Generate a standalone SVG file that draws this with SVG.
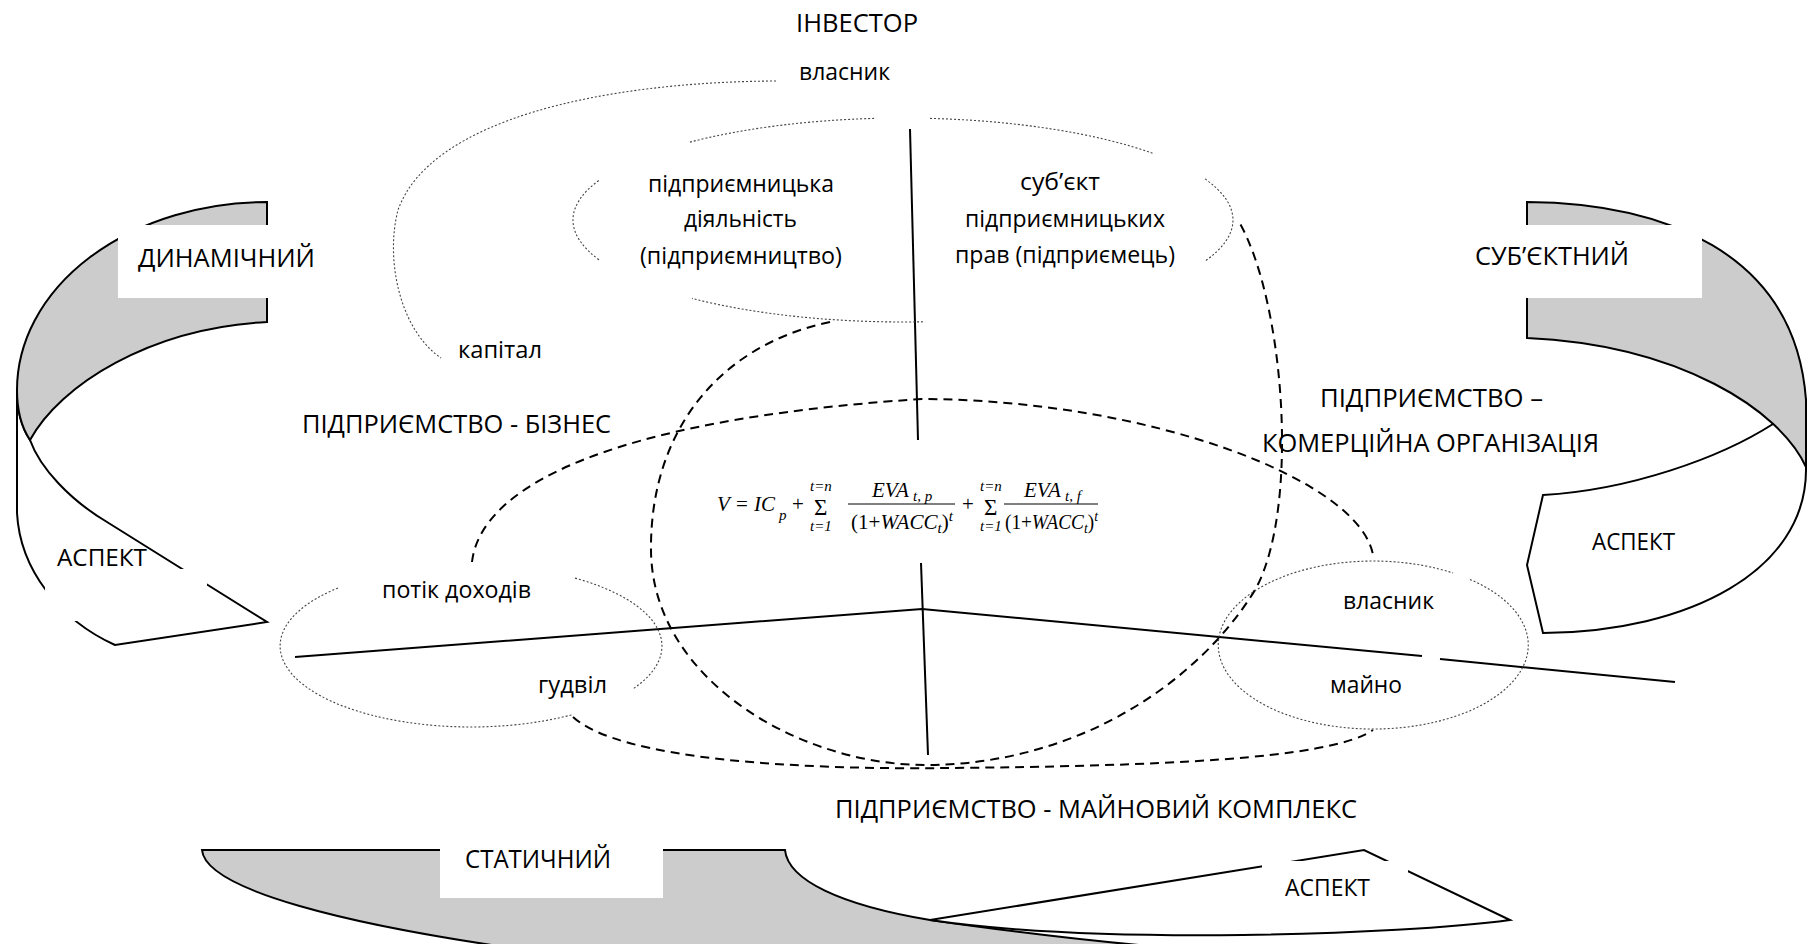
<svg xmlns="http://www.w3.org/2000/svg" width="1807" height="944" viewBox="0 0 1807 944">
<style>
 .band{fill:#cccccc;stroke:#000;stroke-width:2}
 .front{fill:#fff;stroke:#000;stroke-width:2}
 .mask{fill:#fff;stroke:none}
 .solid{fill:none;stroke:#000;stroke-width:2}
 .dash{fill:none;stroke:#000;stroke-width:2;stroke-dasharray:9 6}
 .dot{fill:none;stroke:#444;stroke-width:1.1;stroke-dasharray:2 2}
 text{font-family:"Open Sans","Noto Sans","DejaVu Sans",sans-serif;fill:#000}
 .big{font-size:26px}
 .sm{font-size:23.5px}
 .m{font-family:"Liberation Serif","Times New Roman",serif;font-size:21px}
 .mi{font-style:italic}
 .ms{font-size:15px}
 .sig{font-size:23px}
</style>
<rect width="1807" height="944" fill="#fff"/>

<g id="band-dynamic">
 <path class="front" d="M17,390 L17,513 C20,570 60,620 115,645 L267,622 L107,522 C70,500 40,468 30,440 C22,428 17,412 17,390 Z"/>
 <path class="band" d="M267,202 A250,188 0 0 0 17,390 C17,412 22,428 30,440 C60,385 150,328 267,322 Z"/>
 <rect class="mask" x="118" y="225" width="212" height="73"/>
 <rect class="mask" x="45" y="569" width="162" height="52"/>
 <text class="big" x="138" y="267" textLength="177" lengthAdjust="spacingAndGlyphs">ДИНАМІЧНИЙ</text>
 <text class="sm" x="57" y="566" textLength="90" lengthAdjust="spacingAndGlyphs">АСПЕКТ</text>
</g>

<g id="band-subjective">
 <path class="front" d="M1773,424 C1720,458 1630,490 1543,495 L1527,565 L1543,633 C1690,632 1806,570 1806,470 L1806,400 Z"/>
 <path class="band" d="M1527,202 C1660,203 1795,250 1806,400 L1806,467 C1780,410 1680,345 1527,338 Z"/>
 <rect class="mask" x="1466" y="225" width="236" height="73"/>
 <text class="big" x="1475" y="265" textLength="154" lengthAdjust="spacingAndGlyphs">СУБ’ЄКТНИЙ</text>
 <text class="sm" x="1592" y="550" textLength="83" lengthAdjust="spacingAndGlyphs">АСПЕКТ</text>
</g>

<g id="band-static">
 <path class="band" d="M202,850 L785,850 C788,880 840,905 930,920 C1000,930 1080,940 1150,946 L1150,962 L620,962 C320,927 205,885 202,850 Z"/>
 <path class="front" d="M930,920 L1364,850 L1510,920 C1400,935 1100,945 930,920 Z"/>
 <rect class="mask" x="440" y="848" width="223" height="50"/>
 <rect class="mask" x="1262" y="861" width="146" height="46"/>
 <text class="big" x="465" y="868" textLength="146" lengthAdjust="spacingAndGlyphs">СТАТИЧНИЙ</text>
 <text class="sm" x="1285" y="896" textLength="85" lengthAdjust="spacingAndGlyphs">АСПЕКТ</text>
</g>

<g id="connectors">
 <path class="solid" d="M910,129 L918,440"/>
 <path class="solid" d="M921,563 L928,755"/>
 <path class="solid" d="M295,657 L922,609 L1422,656"/>
 <path class="solid" d="M1440,659 L1675,682"/>
 <path class="dash" d="M830,322 C720,345 650,430 651,550 C652,680 800,765 925,765 C1080,765 1200,680 1255,590 C1300,510 1285,300 1238,220"/>
 <path class="dash" d="M472,562 C480,490 600,420 922,399 C1150,400 1360,480 1373,555"/>
 <path class="dash" d="M573,717 C620,760 800,770 950,768 C1150,766 1330,760 1373,730"/>
 <path class="dot" d="M776,81 C600,82 430,120 398,210 C385,260 400,330 441,358"/>
 <path class="dot" d="M690,142.1 A330,102 0 0 1 875,118.4 M930,118.4 A330,102 0 0 1 1153,153.4 M1205,178.9 A330,102 0 0 1 1205,261.1 M923,321.8 A330,102 0 0 1 692,298.4 M599,259.7 A330,102 0 0 1 599,180.3"/>
 <path class="dot" d="M338,587.9 A191,81 0 0 0 573,714.5 M575,578.1 A191,81 0 0 1 633,688.9"/>
 <path class="dot" d="M1470,579.4 A155,84 0 1 1 1453,573"/>
</g>

<g id="investor"><text class="big" x="796" y="32" textLength="122" lengthAdjust="spacingAndGlyphs">ІНВЕСТОР</text></g>
<g id="owner-top"><text class="sm" x="799" y="80" textLength="91" lengthAdjust="spacingAndGlyphs">власник</text></g>
<g id="capital"><text class="sm" x="458" y="358" textLength="84" lengthAdjust="spacingAndGlyphs">капітал</text></g>
<g id="entrepreneurship">
 <text class="sm" x="648" y="192" textLength="186" lengthAdjust="spacingAndGlyphs">підприємницька</text>
 <text class="sm" x="684" y="227" textLength="113" lengthAdjust="spacingAndGlyphs">діяльність</text>
 <text class="sm" x="640" y="264" textLength="202" lengthAdjust="spacingAndGlyphs">(підприємництво)</text>
</g>
<g id="entrepreneur">
 <text class="sm" x="1020" y="190" textLength="80" lengthAdjust="spacingAndGlyphs">суб’єкт</text>
 <text class="sm" x="965" y="227" textLength="200" lengthAdjust="spacingAndGlyphs">підприємницьких</text>
 <text class="sm" x="955" y="263" textLength="220" lengthAdjust="spacingAndGlyphs">прав (підприємець)</text>
</g>
<g id="enterprise-business"><text class="big" x="302" y="433" textLength="309" lengthAdjust="spacingAndGlyphs">ПІДПРИЄМСТВО - БІЗНЕС</text></g>
<g id="enterprise-commercial">
 <text class="big" x="1320" y="407" textLength="223" lengthAdjust="spacingAndGlyphs">ПІДПРИЄМСТВО –</text>
 <text class="big" x="1262" y="452" textLength="337" lengthAdjust="spacingAndGlyphs">КОМЕРЦІЙНА ОРГАНІЗАЦІЯ</text>
</g>
<g id="enterprise-property"><text class="big" x="835" y="818" textLength="522" lengthAdjust="spacingAndGlyphs">ПІДПРИЄМСТВО - МАЙНОВИЙ КОМПЛЕКС</text></g>
<g id="income-flow"><text class="sm" x="382" y="598" textLength="149" lengthAdjust="spacingAndGlyphs">потік доходів</text></g>
<g id="goodwill"><text class="sm" x="538" y="693" textLength="69" lengthAdjust="spacingAndGlyphs">гудвіл</text></g>
<g id="owner-right"><text class="sm" x="1343" y="609" textLength="91" lengthAdjust="spacingAndGlyphs">власник</text></g>
<g id="property"><text class="sm" x="1330" y="693" textLength="72" lengthAdjust="spacingAndGlyphs">майно</text></g>

<g id="formula">
 <text class="m mi" x="717" y="511">V</text>
 <text class="m" x="736" y="511">=</text>
 <text class="m mi" x="754" y="511">IC</text>
 <text class="m mi ms" x="779" y="520">p</text>
 <text class="m" x="792" y="511">+</text>
 <text class="m sig" x="814" y="515">Σ</text>
 <text class="m mi ms" x="810" y="491">t=n</text>
 <text class="m mi ms" x="810" y="531">t=1</text>
 <text class="m mi" x="872" y="497">EVA</text>
 <text class="m mi ms" x="913" y="501">t, p</text>
 <line x1="848" y1="504" x2="955" y2="504" stroke="#000" stroke-width="1"/>
 <text class="m" x="851" y="529" textLength="102" lengthAdjust="spacingAndGlyphs">(1+<tspan class="mi">WACC</tspan><tspan class="mi ms" dy="4">t</tspan><tspan dy="-4">)</tspan><tspan class="mi ms" dy="-8">t</tspan></text>
 <text class="m" x="962" y="511">+</text>
 <text class="m sig" x="984" y="515">Σ</text>
 <text class="m mi ms" x="980" y="491">t=n</text>
 <text class="m mi ms" x="980" y="531">t=1</text>
 <text class="m mi" x="1024" y="497">EVA</text>
 <text class="m mi ms" x="1065" y="501">t, f</text>
 <line x1="1004" y1="504" x2="1098" y2="504" stroke="#000" stroke-width="1"/>
 <text class="m" x="1005" y="529" textLength="93" lengthAdjust="spacingAndGlyphs">(1+<tspan class="mi">WACC</tspan><tspan class="mi ms" dy="4">t</tspan><tspan dy="-4">)</tspan><tspan class="mi ms" dy="-8">t</tspan></text>
</g>
</svg>
